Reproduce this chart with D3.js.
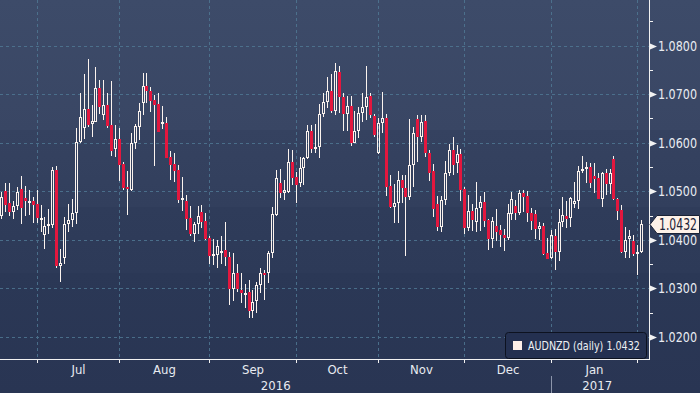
<!DOCTYPE html>
<html><head><meta charset="utf-8">
<script src="https://cdn.jsdelivr.net/npm/d3@7"></script>
<style>html,body{margin:0;padding:0;background:#2b3856;overflow:hidden}</style>
</head><body>
<svg id="c" width="700" height="393"></svg>
<script>
// ---- data ----
const startDate = "2016-06-20", endDate = "2017-02-02"; // weekdays
const openP = [1.0449,1.0501,1.0475,1.0458,1.0470,1.0505,1.0486,1.0478,1.0479,1.0474,
1.0442,1.0409,1.0428,1.0431,1.0544,1.0347,1.0363,1.0432,1.0440,1.0455,
1.0601,1.0630,1.0669,1.0638,1.0643,1.0712,1.0656,1.0678,1.0636,1.0586,
1.0608,1.0557,1.0509,1.0503,1.0599,1.0633,1.0682,1.0717,1.0706,1.0688,
1.0680,1.0639,1.0640,1.0570,1.0556,1.0544,1.0481,1.0480,1.0445,1.0413,
1.0433,1.0457,1.0439,1.0404,1.0367,1.0369,1.0375,1.0379,1.0364,1.0298,
1.0331,1.0297,1.0289,1.0292,1.0254,1.0275,1.0307,1.0331,1.0331,1.0372,
1.0451,1.0516,1.0497,1.0499,1.0560,1.0529,1.0518,1.0547,1.0568,1.0624,
1.0586,1.0592,1.0660,1.0683,1.0707,1.0666,1.0746,1.0693,1.0660,1.0676,
1.0600,1.0625,1.0662,1.0673,1.0696,1.0655,1.0578,1.0640,1.0650,1.0511,
1.0468,1.0475,1.0523,1.0506,1.0489,1.0555,1.0648,1.0612,1.0645,1.0578,
1.0542,1.0473,1.0427,1.0481,1.0537,1.0585,1.0559,1.0577,1.0504,1.0425,
1.0459,1.0437,1.0465,1.0477,1.0441,1.0402,1.0428,1.0420,1.0410,1.0404,
1.0453,1.0470,1.0456,1.0497,1.0490,1.0455,1.0453,1.0422,1.0428,1.0372,
1.0362,1.0408,1.0374,1.0436,1.0449,1.0444,1.0473,1.0480,1.0542,1.0545,
1.0549,1.0532,1.0528,1.0485,1.0538,1.0515,1.0566,1.0485,1.0461,1.0374,
1.0401,1.0398,1.0370,1.0374];
const highP = [1.0499,1.0516,1.0516,1.0479,1.0509,1.0531,1.0511,1.0503,1.0489,1.0503,
1.0472,1.0446,1.0463,1.0549,1.0552,1.0381,1.0448,1.0474,1.0485,1.0630,
1.0702,1.0741,1.0772,1.0678,1.0755,1.0729,1.0729,1.0703,1.0727,1.0636,
1.0630,1.0560,1.0542,1.0619,1.0638,1.0682,1.0743,1.0743,1.0715,1.0699,
1.0702,1.0676,1.0652,1.0583,1.0579,1.0554,1.0530,1.0492,1.0470,1.0437,
1.0470,1.0472,1.0456,1.0408,1.0401,1.0400,1.0408,1.0436,1.0374,1.0372,
1.0350,1.0332,1.0310,1.0317,1.0297,1.0314,1.0341,1.0338,1.0376,1.0468,
1.0544,1.0545,1.0523,1.0587,1.0585,1.0540,1.0571,1.0571,1.0636,1.0636,
1.0638,1.0679,1.0703,1.0735,1.0741,1.0765,1.0758,1.0703,1.0696,1.0696,
1.0665,1.0674,1.0702,1.0758,1.0702,1.0660,1.0651,1.0705,1.0660,1.0533,
1.0515,1.0542,1.0533,1.0533,1.0649,1.0632,1.0658,1.0656,1.0657,1.0584,
1.0556,1.0490,1.0491,1.0562,1.0597,1.0611,1.0595,1.0586,1.0508,1.0492,
1.0474,1.0519,1.0490,1.0498,1.0443,1.0446,1.0463,1.0431,1.0422,1.0474,
1.0498,1.0482,1.0503,1.0503,1.0501,1.0465,1.0461,1.0437,1.0435,1.0403,
1.0420,1.0422,1.0463,1.0489,1.0480,1.0489,1.0520,1.0552,1.0573,1.0561,
1.0558,1.0559,1.0537,1.0540,1.0545,1.0545,1.0573,1.0487,1.0472,1.0426,
1.0420,1.0410,1.0389,1.0441];
const lowP = [1.0443,1.0458,1.0449,1.0443,1.0461,1.0432,1.0450,1.0452,1.0435,1.0435,
1.0417,1.0382,1.0411,1.0424,1.0342,1.0314,1.0351,1.0417,1.0427,1.0433,
1.0599,1.0608,1.0632,1.0612,1.0643,1.0659,1.0647,1.0630,1.0573,1.0571,
1.0521,1.0503,1.0452,1.0501,1.0588,1.0606,1.0657,1.0682,1.0664,1.0552,
1.0621,1.0628,1.0568,1.0523,1.0520,1.0476,1.0460,1.0420,1.0407,1.0396,
1.0413,1.0424,1.0400,1.0350,1.0349,1.0343,1.0350,1.0347,1.0266,1.0275,
1.0292,1.0271,1.0260,1.0240,1.0240,1.0249,1.0290,1.0276,1.0312,1.0362,
1.0450,1.0487,1.0481,1.0497,1.0513,1.0475,1.0509,1.0512,1.0566,1.0578,
1.0578,1.0569,1.0652,1.0671,1.0662,1.0657,1.0662,1.0625,1.0625,1.0593,
1.0599,1.0610,1.0643,1.0647,1.0651,1.0611,1.0577,1.0619,1.0491,1.0465,
1.0435,1.0435,1.0475,1.0367,1.0481,1.0508,1.0561,1.0602,1.0570,1.0522,
1.0448,1.0418,1.0417,1.0472,1.0532,1.0533,1.0537,1.0480,1.0413,1.0418,
1.0418,1.0417,1.0419,1.0427,1.0379,1.0384,1.0398,1.0386,1.0376,1.0400,
1.0441,1.0441,1.0451,1.0458,1.0437,1.0420,1.0401,1.0400,1.0369,1.0360,
1.0360,1.0338,1.0357,1.0427,1.0424,1.0427,1.0466,1.0463,1.0537,1.0516,
1.0506,1.0496,1.0484,1.0468,1.0492,1.0494,1.0482,1.0441,1.0372,1.0363,
1.0362,1.0367,1.0328,1.0372];
const closeP = [1.0489,1.0472,1.0458,1.0470,1.0498,1.0466,1.0479,1.0479,1.0472,1.0444,
1.0445,1.0428,1.0433,1.0544,1.0347,1.0352,1.0432,1.0440,1.0455,1.0601,
1.0652,1.0669,1.0636,1.0645,1.0712,1.0674,1.0678,1.0635,1.0583,1.0608,
1.0555,1.0506,1.0504,1.0599,1.0635,1.0665,1.0717,1.0706,1.0686,1.0678,
1.0623,1.0643,1.0569,1.0554,1.0542,1.0482,1.0486,1.0443,1.0412,1.0433,
1.0450,1.0437,1.0402,1.0367,1.0371,1.0387,1.0378,1.0364,1.0298,1.0331,
1.0298,1.0290,1.0290,1.0254,1.0273,1.0307,1.0331,1.0328,1.0372,1.0453,
1.0527,1.0497,1.0503,1.0560,1.0528,1.0513,1.0547,1.0568,1.0624,1.0586,
1.0592,1.0660,1.0683,1.0707,1.0666,1.0748,1.0693,1.0660,1.0676,1.0600,
1.0625,1.0662,1.0673,1.0693,1.0656,1.0616,1.0640,1.0650,1.0509,1.0468,
1.0475,1.0523,1.0506,1.0489,1.0555,1.0619,1.0612,1.0643,1.0578,1.0538,
1.0463,1.0427,1.0482,1.0537,1.0585,1.0554,1.0576,1.0503,1.0425,1.0459,
1.0441,1.0465,1.0477,1.0439,1.0402,1.0439,1.0417,1.0409,1.0404,1.0455,
1.0485,1.0456,1.0496,1.0489,1.0455,1.0439,1.0422,1.0428,1.0371,1.0361,
1.0410,1.0374,1.0436,1.0451,1.0443,1.0487,1.0480,1.0542,1.0546,1.0549,
1.0518,1.0525,1.0485,1.0537,1.0515,1.0538,1.0484,1.0460,1.0374,1.0400,
1.0408,1.0370,1.0374,1.0432];
const yTicks = [1.02, 1.03, 1.04, 1.05, 1.06, 1.07, 1.08];
const yMinorTicks = [1.025, 1.035, 1.045, 1.055, 1.065, 1.075, 1.085];
const monthLabels = ["Jul", "Aug", "Sep", "Oct", "Nov", "Dec", "Jan"];
const yearLabels = ["2016", "2017"];
const seriesName = "AUDNZD (daily)";
const lastPrice = 1.0432;

// ---- setup ----
const W = 700, H = 393, axisX = 649, axisY = 359;
const parse = d3.utcParse("%Y-%m-%d");
const dates = d3.utcDay.range(parse(startDate), d3.utcDay.offset(parse(endDate), 1))
  .filter(d => d.getUTCDay() !== 0 && d.getUTCDay() !== 6);
const n = openP.length;
const idx = d3.range(n);

const x = d3.scaleBand().domain(idx).range([-0.66, 642.9]).padding(0);
const cx = i => Math.round(x(i) + x.bandwidth() / 2) + 0.5;
const y = d3.scaleLinear().domain([1.01547, 1.08937]).range([axisY, 0]);
const cy = v => Math.round(y(v));

const svg = d3.select("#c");
const fontF = "'DejaVu Sans Condensed','Liberation Sans Narrow','DejaVu Sans',sans-serif";

// squeeze a text horizontally to a target width (keeps its left x)
function fitWidth(sel, width) {
  sel.each(function () {
    const node = this, w = node.getComputedTextLength();
    if (w > width) {
      const x0 = +node.getAttribute("x"), s = width / w;
      node.setAttribute("transform", `translate(${x0},0) scale(${s},1) translate(${-x0},0)`);
    }
  });
}

// background bands
const defs = svg.append("defs");
const g = defs.append("linearGradient").attr("id", "bg").attr("x1", 0).attr("x2", 0).attr("y1", 0).attr("y2", 1);
[[0, "#3d4b69"], [130/393, "#394664"], [130/393, "#354260"], [207/393, "#323f5d"], [207/393, "#2f3c5a"], [273/393, "#2d3a58"], [273/393, "#2b3856"], [1, "#293553"]]
  .forEach(([o, c]) => g.append("stop").attr("offset", o).attr("stop-color", c));
svg.append("rect").attr("width", W).attr("height", H).attr("fill", "url(#bg)");

// month boundaries
const monthStarts = idx.filter(i => i > 0 && dates[i].getUTCMonth() !== dates[i - 1].getUTCMonth());
const mPos = monthStarts.map(cx);

// grid
const grid = svg.append("g").attr("stroke", "#4f7793").attr("stroke-width", 1).attr("stroke-dasharray", "3,3").attr("opacity", 0.85);
grid.selectAll(".gh").data(yTicks).join("line")
  .attr("x1", 0).attr("x2", axisX).attr("y1", d => cy(d) + 0.5).attr("y2", d => cy(d) + 0.5);
grid.selectAll(".gv").data(mPos).join("line")
  .attr("x1", d => d).attr("x2", d => d).attr("y1", 0).attr("y2", axisY);

// candles
const up = "#fbf3ee", down = "#e3173e";
const cg = svg.append("g");
idx.forEach(i => {
  const o = openP[i], c = closeP[i], h = highP[i], l = lowP[i];
  const isUp = c >= o;
  const top = cy(Math.max(o, c)), bot = Math.max(cy(Math.min(o, c)), top + 1);
  const X = cx(i);
  cg.append("line").attr("x1", X).attr("x2", X).attr("y1", cy(h)).attr("y2", top).attr("stroke", up).attr("stroke-width", 1);
  cg.append("line").attr("x1", X).attr("x2", X).attr("y1", bot).attr("y2", cy(l)).attr("stroke", up).attr("stroke-width", 1);
  if (isUp) {
    cg.append("rect").attr("x", X - 1).attr("y", top + 0.5).attr("width", 2).attr("height", Math.max(bot - top - 1, 1))
      .attr("fill", "none").attr("stroke", up).attr("stroke-width", 1);
  } else {
    cg.append("rect").attr("x", X - 1.5).attr("y", top).attr("width", 3).attr("height", Math.max(bot - top, 1)).attr("fill", down);
  }
});

// axes lines
svg.append("line").attr("x1", axisX + 0.5).attr("x2", axisX + 0.5).attr("y1", 0).attr("y2", axisY + 1).attr("stroke", "#f2f2f2");
svg.append("line").attr("x1", 0).attr("x2", axisX + 1).attr("y1", axisY + 0.5).attr("y2", axisY + 0.5).attr("stroke", "#f2f2f2");

// y ticks
svg.selectAll(".ymin").data(yMinorTicks).join("line")
  .attr("x1", axisX).attr("x2", axisX + 4).attr("y1", d => cy(d) + 0.5).attr("y2", d => cy(d) + 0.5).attr("stroke", "#f2f2f2");
svg.selectAll(".ytri").data(yTicks).join("path")
  .attr("d", d => { const yy = cy(d) + 0.5; return `M${axisX + 1},${yy - 3}L${axisX + 8},${yy}L${axisX + 1},${yy + 3}Z`; })
  .attr("fill", "#f2f2f2");
svg.selectAll(".ylab").data(yTicks).join("text")
  .attr("x", 658).attr("y", d => cy(d) + 5)
  .attr("font-family", fontF).attr("font-size", 14).attr("fill", "#e8ebf1")
  .text(d => d.toFixed(4))
  .call(fitWidth, 39);

// x ticks
svg.selectAll(".xt").data(mPos).join("line")
  .attr("x1", d => d).attr("x2", d => d).attr("y1", axisY).attr("y2", axisY + 4).attr("stroke", "#f2f2f2");
const mLabPos = monthLabels.map((m, k) => (mPos[k] + mPos[k + 1]) / 2);
svg.selectAll(".xl").data(monthLabels).join("text")
  .attr("x", (d, k) => mLabPos[k]).attr("y", 374).attr("text-anchor", "middle")
  .attr("font-family", fontF).attr("font-size", 13).attr("fill", "#e8ebf1").text(d => d);

// years
const janIdx = monthStarts.find(i => dates[i].getUTCMonth() === 0);
const janX = cx(janIdx);
const yearPos = [(0 + janX) / 2, (janX + 643) / 2];
svg.selectAll(".yl").data(yearLabels).join("text")
  .attr("x", (d, k) => yearPos[k]).attr("y", 390).attr("text-anchor", "middle")
  .attr("font-family", fontF).attr("font-size", 13).attr("fill", "#e8ebf1").text(d => d);
svg.append("line").attr("x1", janX).attr("x2", janX).attr("y1", 376).attr("y2", H).attr("stroke", "#8c95aa");

// legend
const lg = svg.append("g");
lg.append("rect").attr("x", 505.5).attr("y", 332.5).attr("width", 141).attr("height", 26).attr("rx", 3)
  .attr("fill", "#243050").attr("stroke", "#0d1220");
lg.append("rect").attr("x", 513).attr("y", 341).attr("width", 9).attr("height", 9).attr("fill", "#fdefe9");
lg.append("text").attr("x", 528).attr("y", 350.5).attr("font-family", fontF).attr("font-size", 11.5)
  .attr("fill", "#eef0f4")
  .text(`${seriesName} ${lastPrice.toFixed(4)}`)
  .call(fitWidth, 112);

// last price tag
const ly = cy(lastPrice) + 0.5;
svg.append("path").attr("d", `M650,${ly}L657,${ly - 9}L699.5,${ly - 9}L699.5,${ly + 9}L657,${ly + 9}Z`)
  .attr("fill", "#fdf1e8").attr("stroke", "#1a2236");
svg.append("text").attr("x", 659).attr("y", ly + 5.5).attr("font-family", fontF).attr("font-size", 15)
  .attr("fill", "#1b2236").text(lastPrice.toFixed(4))
  .call(fitWidth, 38);
</script>
</body></html>
